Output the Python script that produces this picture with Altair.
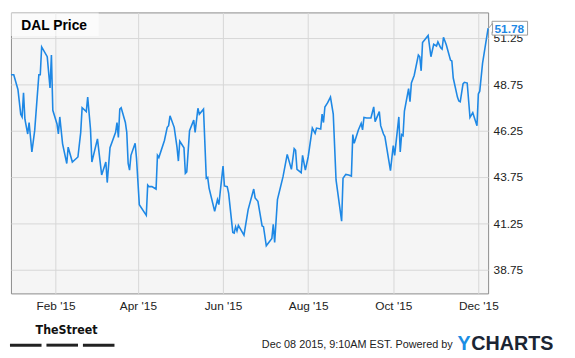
import altair as alt
import pandas as pd

# ---- data ----
# day offsets counted from 2014-12-31
days = [0, 2, 5, 7, 8, 9, 10, 12, 13, 15, 17, 20, 21, 22, 26, 28, 29, 30, 33, 34,
        35, 37, 40, 41, 44, 48, 50, 51, 54, 55, 57, 58, 62, 65, 68, 69, 71, 75, 76, 77,
        78, 79, 82, 83, 84, 85, 86, 89, 90, 92, 97, 98, 99, 101, 104, 105, 106, 110, 112, 113,
        114, 117, 119, 120, 121, 124, 125, 126, 128, 131, 132, 134, 135, 138, 140, 141, 142, 146, 148, 149,
        152, 153, 155, 156, 159, 160, 161, 162, 163, 167, 170, 174, 175, 177, 180, 181, 183, 187, 188, 189,
        191, 195, 198, 201, 203, 204, 205, 208, 209, 211, 213, 216, 218, 219, 222, 223, 224, 225, 227, 229,
        231, 233, 237, 238, 240, 242, 244, 245, 246, 249, 251, 252, 253, 255, 258, 260, 261, 264, 265, 267,
        268, 272, 274, 275, 278, 279, 280, 281, 282, 285, 286, 287, 289, 292, 293, 294, 295, 299, 301, 303,
        305, 306, 308, 309, 310, 312, 315, 316, 317, 320, 321, 322, 324, 325, 327, 329, 331, 334, 335, 336,
        338, 342]
prices = [49.27, 49.27, 48.47, 47.14, 46.99, 48.29, 46.87, 46.07, 46.69, 45.10, 46.25, 49.27, 49.27, 50.77, 50.24, 48.55, 50.33, 47.35, 46.61, 46.07,
          46.99, 45.54, 44.48, 45.36, 44.56, 44.83, 46.16, 47.49, 47.28, 48.06, 46.34, 44.56, 45.81, 43.86, 44.56, 43.45, 45.33, 46.16, 46.69, 45.89,
          47.41, 47.49, 46.69, 46.16, 44.48, 44.12, 44.92, 45.57, 44.74, 42.26, 41.68, 43.32, 43.23, 43.23, 43.10, 44.92, 44.80, 45.72, 46.43, 46.52,
          47.05, 46.43, 45.36, 44.61, 45.68, 45.33, 43.95, 44.03, 46.25, 46.82, 46.16, 47.46, 47.14, 47.41, 43.68, 43.73, 43.15, 41.90, 42.53, 42.26,
          44.34, 43.27, 43.23, 42.88, 40.76, 40.72, 41.07, 40.84, 41.14, 40.61, 41.99, 43.10, 42.62, 42.44, 41.11, 41.07, 40.04, 40.44, 41.20, 40.22,
          42.53, 43.77, 44.97, 44.16, 45.28, 45.19, 44.16, 43.98, 44.92, 44.12, 44.83, 46.39, 46.11, 46.39, 46.34, 47.14, 46.69, 47.53, 47.76, 48.06,
          47.14, 43.59, 41.37, 43.68, 43.89, 43.86, 43.80, 46.04, 45.57, 46.29, 46.64, 46.29, 46.96, 46.93, 46.93, 47.53, 46.74, 47.28, 46.52, 46.07,
          45.93, 44.09, 45.45, 44.92, 46.99, 45.10, 46.04, 45.98, 47.31, 48.52, 47.81, 48.82, 49.23, 50.33, 50.24, 49.48, 51.00, 51.39, 50.24, 50.91,
          50.82, 51.04, 50.72, 50.65, 51.29, 50.89, 50.06, 50.01, 49.09, 48.06, 47.85, 47.81, 48.77, 48.86, 48.82, 46.96, 47.22, 46.52, 48.23, 48.38,
          49.88, 51.78]
y_ticks = [38.75, 41.25, 43.75, 46.25, 48.75, 51.25]
x_tick_months = [2, 4, 6, 8, 10, 12]
title_text = "DAL Price"
last_label = "51.78"
footer_text = "Dec 08 2015, 9:10AM EST. Powered by"
brand_left = "TheStreet"
brand_y = "Y"
brand_rest = "CHARTS"

base_date = pd.Timestamp("2014-12-31")
df = pd.DataFrame({
    "date": [(base_date + pd.Timedelta(days=d)).strftime("%Y-%m-%dT00:00:00") for d in days],
    "price": prices,
})
one = pd.DataFrame({"k": [0]})

FONT = "Liberation Sans, Arial, sans-serif"
BLUE = "#1e88e5"

x_enc = alt.X(
    "date:T",
    scale=alt.Scale(domain=[alt.DateTime(year=2014, month=12, date=31),
                            alt.DateTime(year=2015, month=12, date=8)]),
    axis=alt.Axis(values=[alt.DateTime(year=2015, month=m, date=1) for m in x_tick_months],
                  format="%b '%y", title=None, grid=True, ticks=False, domain=False,
                  labelPadding=7, labelFontSize=12, labelColor="#222", labelFont=FONT,
                  labelFlush=False, gridColor="#d6d6d6", labelAlign="center"),
)
y_enc = alt.Y(
    "price:Q",
    scale=alt.Scale(domain=[37.47, 52.63], nice=False, zero=False),
    axis=alt.Axis(orient="right", values=y_ticks, format=".2f", title=None, grid=True,
                  ticks=False, domain=False, labelPadding=5, labelFontSize=12,
                  labelColor="#222", labelFont=FONT, gridColor="#d6d6d6", zindex=0),
)

line = alt.Chart(df).mark_line(color=BLUE, strokeWidth=1.6).encode(x=x_enc, y=y_enc)

title_box = alt.Chart(one).mark_rect(fill="white", opacity=0.55).encode(
    x=alt.value(0), x2=alt.value(89), y=alt.value(0), y2=alt.value(24))
title_txt = alt.Chart(one).mark_text(text=title_text, align="left", baseline="middle",
                                     fontSize=14, fontWeight="bold", font=FONT, color="#000").encode(
    x=alt.value(10.5), y=alt.value(14))

call_box = alt.Chart(one).mark_rect(fill="white", stroke="#9a9a9a", strokeWidth=1).encode(
    x=alt.value(488), x2=alt.value(524), y=alt.value(9), y2=alt.value(23))
call_ptr = alt.Chart(one).mark_point(shape="M0,0 L1,-1.2 L1,1.2", filled=False, fill="white",
                                     fillOpacity=1, stroke="#9a9a9a", strokeWidth=1, size=64, opacity=1).encode(
    x=alt.value(484.5), y=alt.value(16))
call_txt = alt.Chart(one).mark_text(text=last_label, align="left", baseline="middle", fontSize=12,
                                    fontWeight="bold", font=FONT, color=BLUE).encode(
    x=alt.value(490.5), y=alt.value(16.5))

street = alt.Chart(one).mark_text(text=brand_left, align="left", baseline="middle", fontSize=12.5,
                                  fontWeight="bold", font="Liberation Sans Narrow, DejaVu Sans Condensed, Liberation Sans",
                                  color="#111").encode(x=alt.value(25), y=alt.value(322))
bars = [alt.Chart(one).mark_rect(fill="#222").encode(
    x=alt.value(a), x2=alt.value(b), y=alt.value(336), y2=alt.value(339))
    for a, b in [(-1, 31), (36, 68), (73, 105)]]
footer = alt.Chart(one).mark_text(text=footer_text, align="right", baseline="middle", fontSize=11,
                                  font=FONT, color="#222").encode(x=alt.value(448), y=alt.value(337))
yc1 = alt.Chart(one).mark_text(text=brand_y, align="left", baseline="middle", fontSize=20,
                               fontWeight="bold", font=FONT, color="#1a8de3").encode(
    x=alt.value(453), y=alt.value(336))
yc2 = alt.Chart(one).mark_text(text=brand_rest, align="left", baseline="middle", fontSize=20,
                               fontWeight="bold", font=FONT, color="#1b2533").encode(
    x=alt.value(467), y=alt.value(336))

chart = alt.layer(line, title_box, title_txt, call_box, call_ptr, call_txt,
                  street, *bars, footer, yc1, yc2).properties(
    width=484, height=285,
    autosize=alt.AutoSizeParams(type="none"),
    padding={"left": 3, "top": 2, "right": 80, "bottom": 60},
    background="white",
).configure_view(fill="#f5f5f5", stroke="#8a8a8a", strokeWidth=1)

chart.save("out.html", embed_options={"renderer": "svg", "actions": False})
